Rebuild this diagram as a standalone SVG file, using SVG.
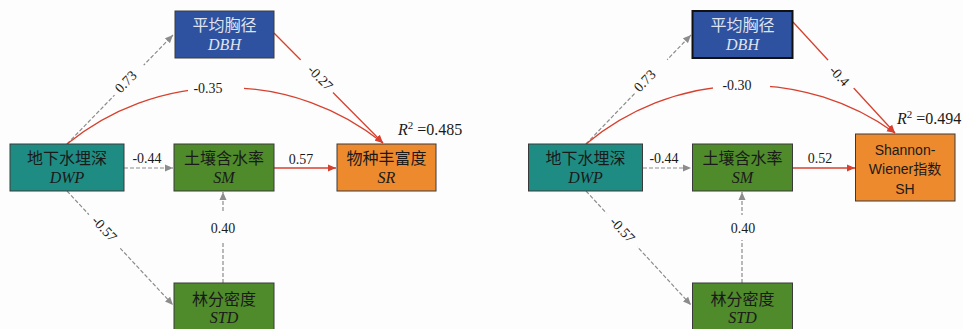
<svg xmlns="http://www.w3.org/2000/svg" width="963" height="329" viewBox="0 0 963 329">
<style>
.box{stroke:#3a3a3a;stroke-width:1}
.dbh{fill:#2e52a0}
.dwp{fill:#1f8c84}
.sm{fill:#4f8a2b}
.sr{fill:#ee8a2e}
.cn{font-family:"Liberation Serif","Noto Sans CJK SC",serif;font-size:16px;fill:#1a1a1a;text-anchor:middle}
.it{font-family:"Liberation Serif",serif;font-style:italic;font-size:16px;fill:#1a1a1a;text-anchor:middle}
.lt{fill:#dfe3ee}
.sans{font-family:"Liberation Sans","Noto Sans CJK SC",sans-serif;font-size:14px;fill:#1a1a1a;text-anchor:middle}
.lbl{font-family:"Liberation Serif",serif;font-size:14px;fill:#1a1a1a;text-anchor:middle}
.r2{font-family:"Liberation Serif",serif;font-size:16px;fill:#1a1a1a}
.g{fill:none;stroke:#8c8c8c;stroke-width:1.2;stroke-dasharray:4 2;marker-end:url(#ag)}
.r{fill:none;stroke:#d7402e;stroke-width:1.3;marker-end:url(#ar)}
</style>
<defs>
<marker id="ag" markerUnits="userSpaceOnUse" markerWidth="9" markerHeight="8" refX="8" refY="4" orient="auto"><path d="M0,0.5 L8,4 L0,7.5 Z" fill="#8c8c8c"/></marker>
<marker id="ar" markerUnits="userSpaceOnUse" markerWidth="9" markerHeight="8" refX="8" refY="4" orient="auto"><path d="M0,0.5 L8,4 L0,7.5 Z" fill="#d7402e"/></marker>
<mask id="gaps" maskUnits="userSpaceOnUse" x="0" y="0" width="963" height="329">
<rect x="0" y="0" width="963" height="329" fill="#fff"/>
<rect x="-21" y="-8" width="42" height="16" transform="translate(129,80) rotate(-45.5)" fill="#000"/>
<rect x="-23" y="-8" width="46" height="16" transform="translate(316.5,76.5) rotate(45.5)" fill="#000"/>
<rect x="-23" y="-8" width="46" height="16" transform="translate(104,232) rotate(47)" fill="#000"/>
<rect x="188" y="78" width="56" height="18" fill="#000"/>
<rect x="215" y="213" width="16" height="30" fill="#000"/>
<rect x="-23" y="-8" width="46" height="16" transform="translate(651,76) rotate(-45.5)" fill="#000"/>
<rect x="-19" y="-8" width="38" height="16" transform="translate(841,74) rotate(47)" fill="#000"/>
<rect x="-23" y="-8" width="46" height="16" transform="translate(622,230) rotate(47)" fill="#000"/>
<rect x="713" y="76" width="57" height="18" fill="#000"/>
<rect x="734" y="215" width="16" height="25" fill="#000"/>
</mask>
</defs>
<rect x="0" y="0" width="963" height="329" fill="#fdfdfd"/>

<g id="connectors" mask="url(#gaps)">
<path class="g" d="M67,144 L173,35"/>
<path class="r" d="M274,33 L383,143"/>
<path class="r" d="M67,144 A251,251 0 0 1 383,143"/>
<path class="g" d="M124,168 L173,168"/>
<path class="r" d="M274,168 L336,168"/>
<path class="g" d="M67,191 L173,305"/>
<path class="g" d="M223,283 L223,192"/>

<path class="g" d="M586,144 L691,35"/>
<path class="r" d="M793,22 L895,133"/>
<path class="r" d="M586,144 A252,252 0 0 1 895,133"/>
<path class="g" d="M643,168 L691,168"/>
<path class="r" d="M793,168 L855,168"/>
<path class="g" d="M586,191 L691,305"/>
<path class="g" d="M742,283 L742,192"/>
</g>

<g id="labels">
<text class="lbl" transform="translate(129,85) rotate(-45.5)">0.73</text>
<text class="lbl" transform="translate(317,81) rotate(45.5)">-0.27</text>
<text class="lbl" x="208" y="93">-0.35</text>
<text class="lbl" x="147" y="163">-0.44</text>
<text class="lbl" x="301" y="164">0.57</text>
<text class="lbl" transform="translate(101,232) rotate(47)">-0.57</text>
<text class="lbl" x="223" y="233">0.40</text>
<text class="r2" x="398" y="135"><tspan font-style="italic">R</tspan><tspan font-size="11" dy="-6">2</tspan><tspan dy="6"> =0.485</tspan></text>

<text class="lbl" transform="translate(648,84) rotate(-45.5)">0.73</text>
<text class="lbl" transform="translate(836,79) rotate(47)">-0.4</text>
<text class="lbl" x="737" y="90">-0.30</text>
<text class="lbl" x="664" y="163">-0.44</text>
<text class="lbl" x="820" y="163">0.52</text>
<text class="lbl" transform="translate(619,233) rotate(47)">-0.57</text>
<text class="lbl" x="743" y="233">0.40</text>
<text class="r2" x="897" y="124"><tspan font-style="italic">R</tspan><tspan font-size="11" dy="-6">2</tspan><tspan dy="6"> =0.494</tspan></text>
</g>

<g id="L_DBH"><rect class="box dbh" x="175" y="11" width="99" height="47"/><text class="cn lt" x="224.5" y="31">平均胸径</text><text class="it lt" x="224.5" y="50">DBH</text></g>
<g id="L_DWP"><rect class="box dwp" x="10" y="144" width="114" height="47"/><text class="cn" x="67" y="164">地下水埋深</text><text class="it" x="67" y="183">DWP</text></g>
<g id="L_SM"><rect class="box sm" x="174" y="144" width="100" height="47"/><text class="cn" x="224" y="164">土壤含水率</text><text class="it" x="224" y="183">SM</text></g>
<g id="L_SR"><rect class="box sr" x="337" y="144" width="99" height="47"/><text class="cn" x="386.5" y="164">物种丰富度</text><text class="it" x="386.5" y="183">SR</text></g>
<g id="L_STD"><rect class="box sm" x="174" y="283" width="100" height="50"/><text class="cn" x="224" y="305">林分密度</text><text class="it" x="224" y="323">STD</text></g>

<g id="R_DBH"><rect class="dbh" x="692.5" y="11" width="100" height="47" stroke="#111" stroke-width="2"/><text class="cn lt" x="742.5" y="31">平均胸径</text><text class="it lt" x="742.5" y="50">DBH</text></g>
<g id="R_DWP"><rect class="box dwp" x="528.5" y="144" width="114" height="47"/><text class="cn" x="585.5" y="164">地下水埋深</text><text class="it" x="585.5" y="183">DWP</text></g>
<g id="R_SM"><rect class="box sm" x="692.5" y="144" width="100" height="47"/><text class="cn" x="742.5" y="164">土壤含水率</text><text class="it" x="742.5" y="183">SM</text></g>
<g id="R_SH"><rect class="box sr" x="855.5" y="134" width="99.5" height="67"/><text class="sans" x="905" y="155">Shannon-</text><text class="sans" x="905" y="174">Wiener指数</text><text class="sans" x="905" y="194">SH</text></g>
<g id="R_STD"><rect class="box sm" x="692.5" y="283" width="100" height="50"/><text class="cn" x="742.5" y="305">林分密度</text><text class="it" x="742.5" y="323">STD</text></g>
</svg>
